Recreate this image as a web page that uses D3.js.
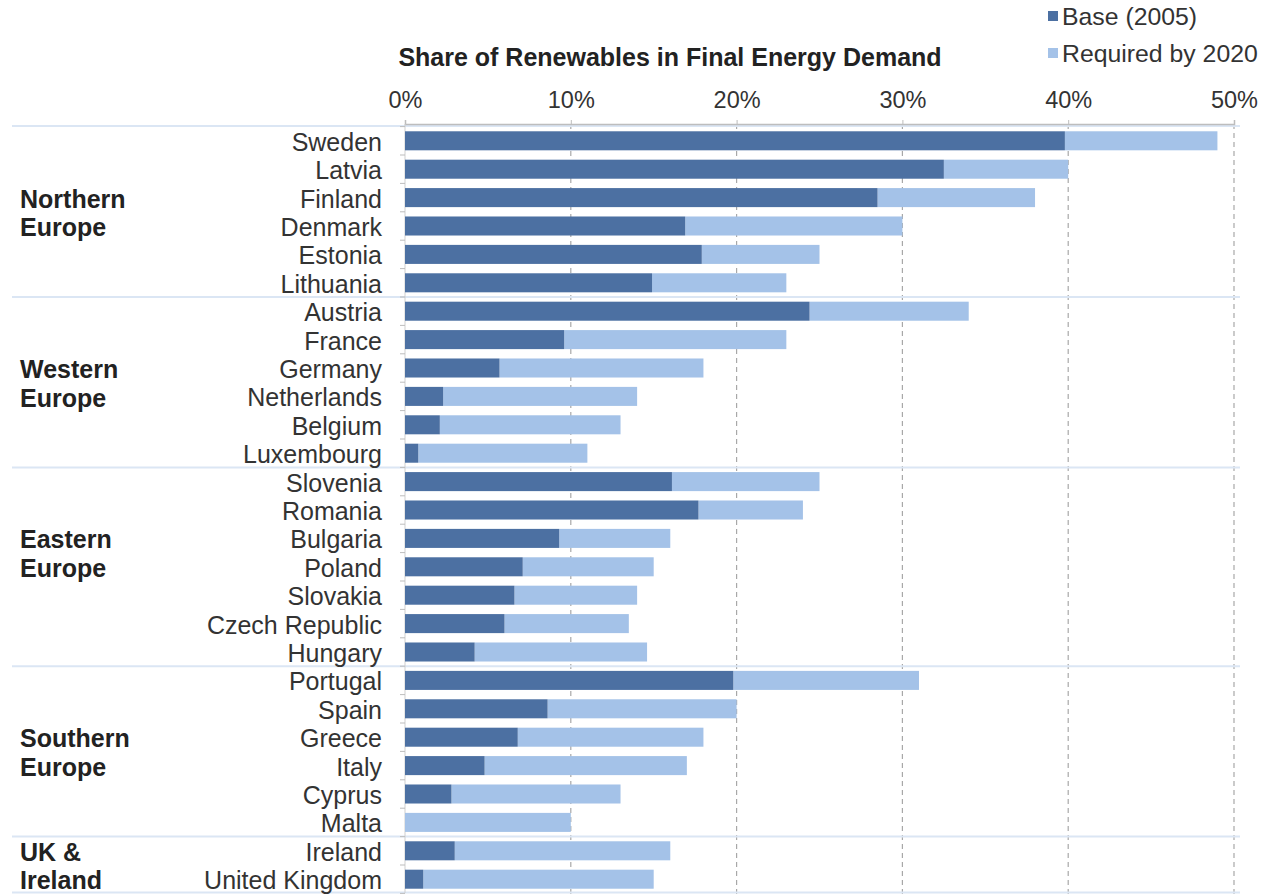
<!DOCTYPE html>
<html>
<head>
<meta charset="utf-8">
<script src="https://cdn.jsdelivr.net/npm/d3@7"></script>
<style>
html,body{margin:0;padding:0;background:#fff;}
svg{display:block;font-family:"Liberation Sans",Arial,sans-serif;}
</style>
</head>
<body>
<svg id="chart" width="1266" height="894"></svg>
<script>
const countries = ["Sweden","Latvia","Finland","Denmark","Estonia","Lithuania",
  "Austria","France","Germany","Netherlands","Belgium","Luxembourg",
  "Slovenia","Romania","Bulgaria","Poland","Slovakia","Czech Republic","Hungary",
  "Portugal","Spain","Greece","Italy","Cyprus","Malta",
  "Ireland","United Kingdom"];
const base2005 = [39.8,32.5,28.5,16.9,17.9,14.9,
  24.4,9.6,5.7,2.3,2.1,0.8,
  16.1,17.7,9.3,7.1,6.6,6.0,4.2,
  19.8,8.6,6.8,4.8,2.8,0.0,
  3.0,1.1];
const required2020 = [49,40,38,30,25,23,
  34,23,18,14,13,11,
  25,24,16,15,14,13.5,14.6,
  31,20,18,17,13,10,
  16,15];
const groupNames = [["Northern","Europe"],["Western","Europe"],["Eastern","Europe"],["Southern","Europe"],["UK &","Ireland"]];
const groupSizes = [6,6,7,6,2];
const tickValues = [0,10,20,30,40,50];
const seriesNames = ["Base (2005)","Required by 2020"];
const titleText = "Share of Renewables in Final Energy Demand";

const colors = ["#4c70a2","#a4c2e8"];
const svg = d3.select("#chart");
const x = d3.scaleLinear().domain([0,50]).range([405,1234]);
const y = d3.scaleBand().domain(countries).range([126.6,893.4]).paddingInner(0.33).paddingOuter(0.165);
const step = y.step();

// title
svg.append("text").attr("x",670).attr("y",66).attr("text-anchor","middle")
  .attr("font-size",25).attr("font-weight","bold").attr("fill","#222").text(titleText);

// legend
seriesNames.forEach((s,i)=>{
  const ly = 17 + i*37;
  svg.append("rect").attr("x",1048).attr("y",ly-6).attr("width",10).attr("height",10).attr("fill",colors[i]);
  svg.append("text").attr("x",1062).attr("y",ly+8).attr("font-size",24.8).attr("fill","#333").text(s);
});

// gridlines
svg.append("g").selectAll("line").data(tickValues.slice(1)).join("line")
  .attr("x1",d=>x(d)).attr("x2",d=>x(d)).attr("y1",124).attr("y2",894)
  .attr("stroke","#a8a8a8").attr("stroke-width",1.2).attr("stroke-dasharray","5,4");

// group separators
let starts=[];let acc=0;groupSizes.forEach(n=>{starts.push(acc);acc+=n;});
const boundaries = starts.concat([countries.length]);
svg.append("g").selectAll("line").data(boundaries).join("line")
  .attr("x1",12).attr("x2",1240)
  .attr("y1",i=> i===0?126:(i===countries.length?892.5:126.6+i*step))
  .attr("y2",i=> i===0?126:(i===countries.length?892.5:126.6+i*step))
  .attr("stroke","#dbe6f4").attr("stroke-width",2);

// top axis
const xAxis = d3.axisTop(x).tickValues(tickValues).tickFormat(d=>d+"%").tickSize(4).tickPadding(12);
const gx = svg.append("g").attr("transform","translate(0,124)").call(xAxis);
gx.select(".domain").attr("stroke","#bdbdbd").attr("stroke-width",1.5);
gx.selectAll(".tick line").attr("stroke","#bdbdbd");
gx.selectAll("text").attr("font-size",23.5).attr("fill","#333").attr("font-family","Liberation Sans, Arial, sans-serif");

// left axis line and ticks at category boundaries
svg.append("line").attr("x1",405).attr("x2",405).attr("y1",124).attr("y2",893).attr("stroke","#cfcfcf").attr("stroke-width",1);
svg.append("g").selectAll("line").data(d3.range(countries.length+1)).join("line")
  .attr("x1",400).attr("x2",405).attr("y1",i=>126.6+i*step).attr("y2",i=>126.6+i*step)
  .attr("stroke","#bdbdbd");

// bars
const bars = svg.append("g");
bars.selectAll("rect.req").data(countries).join("rect").attr("class","req")
  .attr("x",(d,i)=>x(base2005[i])).attr("y",d=>y(d))
  .attr("width",(d,i)=>x(required2020[i])-x(base2005[i])).attr("height",y.bandwidth())
  .attr("fill",colors[1]);
bars.selectAll("rect.base").data(countries).join("rect").attr("class","base")
  .attr("x",x(0)).attr("y",d=>y(d))
  .attr("width",(d,i)=>x(base2005[i])-x(0)).attr("height",y.bandwidth())
  .attr("fill",colors[0]);

// country labels
svg.append("g").selectAll("text").data(countries).join("text")
  .attr("x",382).attr("y",d=>y(d)+y.bandwidth()/2+1).attr("dy","0.36em")
  .attr("text-anchor","end").attr("font-size",25).attr("fill","#333").text(d=>d);

// group labels
groupNames.forEach((g,gi)=>{
  const n = groupSizes[gi];
  const r = starts[gi] + Math.floor((n-2)/2);
  const cy = 126.6 + (r+0.5)*step + 1;
  g.forEach((line,li)=>{
    svg.append("text").attr("x",20).attr("y",cy + li*28.5).attr("dy","0.36em")
      .attr("font-size",25).attr("font-weight","bold").attr("fill","#222").text(line);
  });
});
</script>
</body>
</html>
